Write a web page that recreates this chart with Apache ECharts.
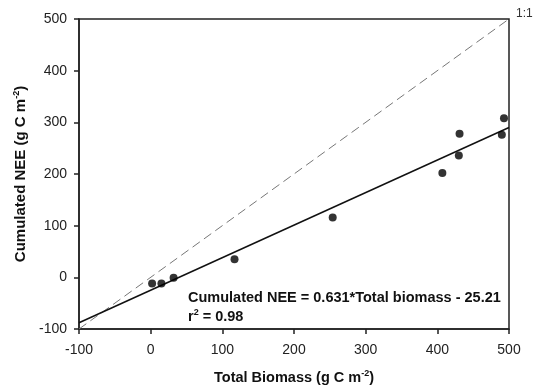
<!DOCTYPE html>
<html>
<head>
<meta charset="utf-8">
<script src="https://cdn.jsdelivr.net/npm/echarts@6/dist/echarts.min.js"></script>
<style>
  html, body { margin: 0; padding: 0; background: #fff; }
  #chart { width: 533px; height: 387px; }
</style>
</head>
<body>
<div id="chart"></div>
<script>
// measured points (Total biomass, Cumulated NEE)
const biomass = [2, 15, 32, 117, 254, 407, 430, 431, 490, 493]
const nee = [-12, -12, -1, 35, 116, 202, 236, 278, 276, 308]

// fitted line endpoints and 1:1 line endpoints
const fitX = [-100, 500]
const fitY = [-88, 290]
const oneX = [-100, 500]
const oneY = [-100, 500]

const xTicks = [-100, 0, 100, 200, 300, 400, 500]
const yTicks = [-100, 0, 100, 200, 300, 400, 500]

const font = 'Liberation Sans, Arial, sans-serif'
const supStyle = { fontSize: 9, fontWeight: 'bold', fontFamily: font, color: '#111', verticalAlign: 'top', padding: [0, 0, 9, 0] }

const chart = echarts.init(document.getElementById('chart'))

const axisCommon = {
  type: 'value',
  interval: 100,
  splitLine: { show: false },
  axisLine: { show: true, onZero: false, lineStyle: { color: '#222', width: 1.5 } },
  axisTick: { show: true, inside: false, length: 5, lineStyle: { color: '#222', width: 1.5 } },
  axisLabel: { color: '#222', fontSize: 14, fontFamily: font },
  nameLocation: 'middle',
  nameTextStyle: {
    color: '#111', fontSize: 14.5, fontWeight: 'bold', fontFamily: font,
    rich: { sup: supStyle }
  }
}

const option = {
  backgroundColor: '#fff',
  animation: false,
  grid: {
    left: 79, right: 24, top: 19, bottom: 58,
    containLabel: false, outerBoundsMode: 'none',
    show: true, borderColor: '#222', borderWidth: 1.5
  },
  xAxis: Object.assign({}, axisCommon, {
    min: xTicks[0], max: xTicks[xTicks.length - 1],
    name: 'Total Biomass (g C m{sup|-2})',
    nameGap: 40,
    axisLabel: Object.assign({}, axisCommon.axisLabel, { margin: 14 })
  }),
  yAxis: Object.assign({}, axisCommon, {
    min: yTicks[0], max: yTicks[yTicks.length - 1],
    name: 'Cumulated NEE (g C m{sup|-2})',
    nameGap: 49,
    nameTextStyle: Object.assign({}, axisCommon.nameTextStyle, { fontSize: 15 }),
    axisLabel: Object.assign({}, axisCommon.axisLabel, { margin: 12 })
  }),
  series: [
    {
      type: 'line',
      data: oneX.map((x, i) => [x, oneY[i]]),
      symbol: 'none',
      lineStyle: { color: '#777', width: 1, type: [9, 5] },
      z: 1
    },
    {
      type: 'line',
      data: fitX.map((x, i) => [x, fitY[i]]),
      symbol: 'none',
      lineStyle: { color: '#111', width: 1.5 },
      z: 2
    },
    {
      type: 'scatter',
      data: biomass.map((x, i) => [x, nee[i]]),
      symbol: 'circle',
      symbolSize: 8,
      itemStyle: { color: '#000' },
      z: 3
    }
  ],
  graphic: [
    {
      type: 'text', left: 188, top: 290,
      style: { text: 'Cumulated NEE = 0.631*Total biomass - 25.21', fill: '#111', font: 'bold 14.5px ' + font }
    },
    {
      type: 'text', left: 188, top: 308,
      style: {
        text: 'r{sup|2} = 0.98', fill: '#111', font: 'bold 14.5px ' + font,
        rich: { sup: Object.assign({}, supStyle, { fill: '#111' }) }
      }
    },
    {
      type: 'text', left: 516, top: 8,
      style: { text: '1:1', fill: '#333', font: '12px ' + font }
    }
  ]
}

chart.setOption(option)
window.addEventListener('resize', () => chart.resize())
</script>
</body>
</html>
